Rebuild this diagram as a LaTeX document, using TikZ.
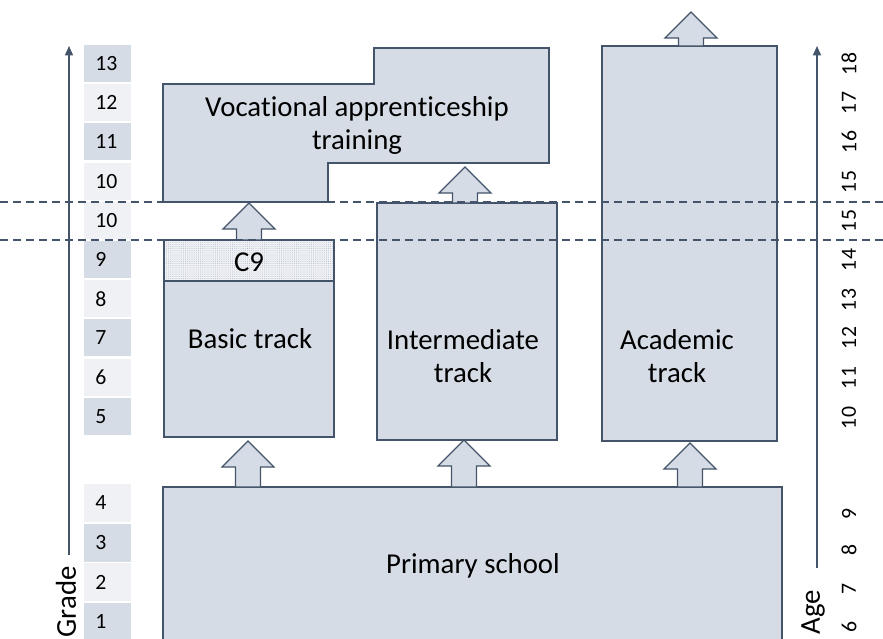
\documentclass[tikz,border=0pt]{standalone}
\usepackage{fontspec}
\setmainfont{Carlito}[Ligatures={NoCommon,NoDiscretionary,NoRare}]
\usetikzlibrary{arrows.meta,patterns.meta}
\definecolor{boxfill}{HTML}{D6DCE5}
\definecolor{lightfill}{HTML}{EFF1F5}
\definecolor{edgec}{HTML}{44546A}
\definecolor{dotc}{HTML}{A3AEBF}
\newcommand{\blockup}[3]{%
  \draw[arrowbox] (#1,#2) -- (#1+26,#2+26) -- (#1+12.5,#2+26) -- (#1+12.5,#3)
    -- (#1-12.5,#3) -- (#1-12.5,#2+26) -- (#1-26,#2+26) -- cycle;}
\newcommand{\bigtxt}{\fontsize{21.6}{24.75}\selectfont}
\newcommand{\numtxt}{\fontsize{16.3}{18}\selectfont}
\begin{document}
\begin{tikzpicture}[x=0.75pt,y=-0.75pt,
  box/.style={draw=edgec,fill=boxfill,line width=1pt},
  arrowbox/.style={draw=edgec,fill=boxfill,line width=1pt,line join=miter},
  label/.style={font=\bigtxt,align=center,inner sep=0pt,text=black},
  gnum/.style={font=\numtxt,anchor=west,inner sep=0pt,text=black},
  anum/.style={font=\numtxt,rotate=90,inner sep=0pt,text=black},
  dark/.style={fill=boxfill},
  light/.style={fill=lightfill},
  axis/.style={draw=edgec,line width=1.1pt,-{Triangle[width=6pt,length=7pt]}},
  sep/.style={draw=edgec,line width=1pt,dash pattern=on 6pt off 3.8pt}]
\useasboundingbox (0,0) rectangle (883,639);
\clip (0,0) rectangle (883,639);

% grade boxes
\foreach \n/\i/\s in {13/0/dark,12/1/light,11/2/dark,10/3/light,10/4/light,9/5/dark,8/6/light,7/7/dark,6/8/light,5/9/dark}{
  \path[\s] (84,{45+39.2*\i}) rectangle (131,{82+39.2*\i});
  \node[gnum] (g\i) at (95,{63.5+39.2*\i}) {\n};
}
\foreach \n/\y/\s in {4/484/light,3/524/dark,2/563/light,1/603/dark}{
  \path[\s] (84,\y) rectangle (131,\y+38);
  \node[gnum] (gp\n) at (95,\y+19) {\n};
}

% age numbers
\foreach \a/\y in {18/64,17/103,16/142,15/182,15/221,14/260,13/300,12/338,11/378,10/418,9/514,8/550,7/589,6/627}{
  \node[anum] (age\a-\y) at (849,\y) {\a};
}

% axes
\coordinate (gbot) at (69,555);
\coordinate (gtop) at (69,46);
\draw[axis] (gbot) -- (gtop);
\node[label,rotate=90] (gradelbl) at (66,602) {Grade};
\coordinate (abot) at (817,568);
\coordinate (atop) at (817,46);
\draw[axis] (abot) -- (atop);
\node[label,rotate=90] (agelbl) at (813,612) {Age};

% vocational
\draw[box] (163,84) -- (374,84) -- (374,48) -- (549,48) -- (549,163) -- (328,163) -- (328,202) -- (163,202) -- cycle;
\node[label] (voc) at (357,125.5) {Voca\kern0pt tional appren\kern0pt ticeship\\training};

% basic track with C9
\fill[lightfill] (164,240) rectangle (334,281);
\fill[pattern={Dots[distance=1.6pt,radius=0.3pt]},pattern color=dotc] (164,240) rectangle (334,281);
\draw[edgec,line width=1pt] (164,240) rectangle (334,281);
\node[label] (c9) at (249,262) {C9};
\draw[box] (164,281) rectangle (334,437);
\node[label] (basic) at (250,339) {Basic track};

% intermediate
\draw[box] (377,203) rectangle (557,440);
\node[label] (inter) at (463,356) {Intermediate\\track};

% academic
\draw[box] (602,46) rectangle (777,441);
\node[label] (acad) at (677,356) {Academic\\track};

% primary
\draw[box] (163,487) rectangle (782,660);
\node[label] (prim) at (473,566) {Primary school};

% block arrows
\blockup{249}{203}{240}
\blockup{465}{167}{203}
\blockup{691}{12}{46}
\blockup{248}{441}{487}
\blockup{464}{440}{487}
\blockup{690}{443}{487}

% separators
\coordinate (s1l) at (0,202); \coordinate (s1r) at (883,202);
\coordinate (s2l) at (0,240); \coordinate (s2r) at (883,240);
\draw[sep] (s1l) -- (s1r);
\draw[sep] (s2l) -- (s2r);
\end{tikzpicture}
\end{document}
